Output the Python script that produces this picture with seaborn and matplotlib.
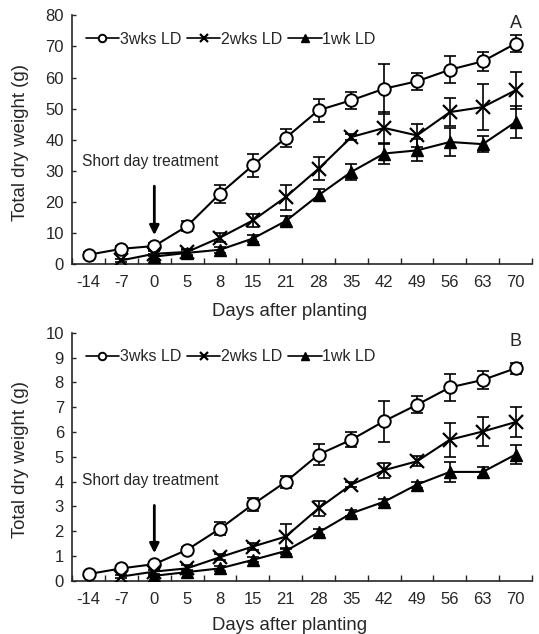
import numpy as np
import pandas as pd
import matplotlib
matplotlib.use("Agg")
import matplotlib.pyplot as plt
import seaborn as sns

days = ["-14", "-7", "0", "5", "8", "15", "21", "28", "35", "42", "49", "56", "63", "70"]
series = ["3wks LD", "2wks LD", "1wk LD"]

# panel A, total dry weight (g)
a_3wk = [3.1, 5.0, 5.9, 12.3, 22.7, 31.8, 40.6, 49.5, 52.7, 56.4, 58.8, 62.5, 65.2, 70.9]
a_3wk_err = [1.0, 1.0, 1.0, 1.5, 2.9, 3.7, 3.0, 3.7, 2.7, 8.0, 2.7, 4.3, 3.0, 2.8]
a_2wk = [np.nan, 1.3, 3.4, 4.0, 8.6, 14.1, 21.6, 30.7, 40.9, 43.8, 41.4, 48.9, 50.5, 55.9]
a_2wk_err = [np.nan, 0.5, 0.8, 1.0, 1.5, 2.0, 4.0, 3.7, 1.0, 5.0, 3.7, 4.5, 7.5, 5.9]
a_1wk = [np.nan, np.nan, 2.5, 3.7, 4.7, 8.3, 13.9, 22.2, 29.7, 35.6, 36.6, 39.3, 38.6, 45.7]
a_1wk_err = [np.nan, np.nan, 0.8, 1.0, 1.0, 1.2, 1.5, 2.0, 2.5, 3.5, 3.5, 4.5, 2.5, 5.0]

# panel B
b_3wk = [0.27, 0.5, 0.67, 1.25, 2.1, 3.08, 3.99, 5.09, 5.69, 6.44, 7.1, 7.8, 8.1, 8.57]
b_3wk_err = [0.08, 0.08, 0.1, 0.12, 0.25, 0.25, 0.25, 0.44, 0.3, 0.83, 0.35, 0.54, 0.35, 0.22]
b_2wk = [np.nan, 0.17, 0.37, 0.5, 0.95, 1.38, 1.78, 2.92, 3.88, 4.46, 4.82, 5.69, 6.02, 6.4]
b_2wk_err = [np.nan, 0.05, 0.08, 0.12, 0.12, 0.15, 0.5, 0.3, 0.1, 0.3, 0.2, 0.68, 0.6, 0.6]
b_1wk = [np.nan, np.nan, 0.2, 0.35, 0.5, 0.84, 1.2, 1.95, 2.72, 3.19, 3.88, 4.39, 4.39, 5.09]
b_1wk_err = [np.nan, np.nan, 0.05, 0.08, 0.1, 0.1, 0.12, 0.12, 0.12, 0.12, 0.12, 0.4, 0.2, 0.4]

sns.set_style("ticks")
plt.rcParams["font.family"] = ["Liberation Sans", "DejaVu Sans"]

styles = {
    "3wks LD": dict(marker="o", markerfacecolor="white", markeredgecolor="black",
                    markersize=9, markeredgewidth=1.4),
    "2wks LD": dict(marker="x", markeredgecolor="black", markersize=10, markeredgewidth=1.6),
    "1wk LD": dict(marker="^", markerfacecolor="black", markeredgecolor="black",
                   markersize=8.5, markeredgewidth=1),
}

fig = plt.figure(figsize=(5.39, 6.34), dpi=100)
ax_a = fig.add_axes([0.134, 0.583, 0.853, 0.393])
ax_b = fig.add_axes([0.134, 0.084, 0.853, 0.391])

panels = [
    (ax_a, [(a_3wk, a_3wk_err), (a_2wk, a_2wk_err), (a_1wk, a_1wk_err)], 80, 10,
     "A", (2, 26), (2, 8.5), 33, 311),
    (ax_b, [(b_3wk, b_3wk_err), (b_2wk, b_2wk_err), (b_1wk, b_1wk_err)], 10, 1,
     "B", (2, 3.15), (2, 1.0), 4.05, 625),
]

x = np.arange(len(days))
for ax, data, ymax, ystep, tag, arr_from, arr_to, text_y, xlab_y in panels:
    for name, (vals, errs) in zip(series, data):
        df = pd.DataFrame({"x": x, "y": vals, "err": errs}).dropna()
        ax.errorbar(df["x"], df["y"], yerr=df["err"], fmt="none", ecolor="black",
                    elinewidth=1.2, capsize=4, capthick=1.2, zorder=2)
        sns.lineplot(data=df, x="x", y="y", ax=ax, color="black", linewidth=1.5,
                     label=name, zorder=3, **styles[name])

    ax.set_xlim(-0.5, 13.5)
    ax.set_ylim(0, ymax)
    ax.set_xticks(x)
    ax.set_xticklabels(days)
    ax.set_xticks(np.arange(-0.5, 13.6, 1), minor=True)
    ax.tick_params(axis="x", which="major", length=0, labelsize=12, pad=8)
    ax.tick_params(axis="x", which="minor", direction="in", length=4, width=1)
    ax.set_yticks(np.arange(0, ymax + ystep / 2, ystep))
    ax.tick_params(axis="y", direction="in", length=3, labelsize=12, width=1, pad=6)
    for sp in ["top", "right"]:
        ax.spines[sp].set_visible(False)
    for sp in ["left", "bottom"]:
        ax.spines[sp].set_linewidth(1.2)
    ax.set_ylabel("Total dry weight (g)", fontsize=13.4)
    ax.yaxis.set_label_coords(-0.095, 0.49)
    ax.set_xlabel("")

    leg = ax.legend(loc="upper left", bbox_to_anchor=(0.015, 0.96), ncol=3, frameon=False,
                    fontsize=11.5, handlelength=2.1, handletextpad=0.05, columnspacing=0.35,
                    borderaxespad=0.0, markerscale=0.6)
    for line in leg.get_lines():
        line.set_linewidth(1.2)
    ax.text(13, ymax * 0.965, tag, ha="center", va="center", fontsize=13)
    ax.text(-0.2, text_y, "Short day treatment", ha="left", va="center", fontsize=11.2)
    ax.annotate("", xy=arr_to, xytext=arr_from,
                arrowprops=dict(arrowstyle="-|>", lw=2, color="black", mutation_scale=14))
    fig.text(0.538, 1 - xlab_y / 634, "Days after planting", ha="center", va="center",
             fontsize=13.4)

fig.savefig("out.png", dpi=100)
